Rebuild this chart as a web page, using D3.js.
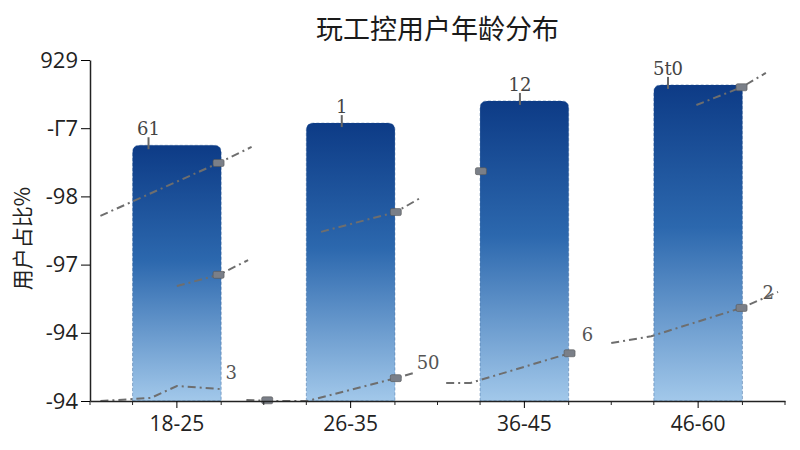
<!DOCTYPE html>
<html>
<head>
<meta charset="utf-8">
<script src="https://cdn.jsdelivr.net/npm/d3@7"></script>
<style>
  body { margin: 0; background: #fff; }
  svg { display: block; font-family: "Noto Sans CJK SC", "Open Sans", sans-serif; }
</style>
</head>
<body>
<div id="vis"></div>
<script>
// chart data
const categories = ["18-25", "26-35", "36-45", "46-60"];
const barValues = [75, 81.5, 88, 92.7];
const barLabels = ["61", "1", "12", "5t0"];
const yTickValues = [0, 20, 40, 60, 80, 100];
const yTickLabels = ["-94", "-94", "-97", "-98", "-Γ7", "929"];

// dash-dot line fragments, [category index, value]
const upperSegments = [
  [[-0.44, 54.3], [0.24, 69.8], [0.43, 74.5]],
  [[0.83, 49.6], [1.26, 55.4], [1.41, 59.8]],
  [[2.99, 86.8], [3.25, 92], [3.39, 96.2]]
];
const middleSegments = [
  [[0, 33.7], [0.24, 37], [0.41, 41.3]]
];
const lowerSegments = [
  [[-0.44, 0], [-0.15, 0.9], [0, 4.4], [0.25, 3.5]],
  [[0.4, 0.3], [0.54, 0], [0.75, 0], [1.26, 6.7], [1.36, 8.2]],
  [[1.55, 5.3], [1.69, 5.3], [2.26, 14]],
  [[2.5, 17], [2.73, 19], [3.25, 27.3], [3.46, 32]]
];
const markers = [[0.24, 69.8], [0.24, 37], [1.26, 55.4], [1.75, 67.4], [3.25, 92],
                 [0.52, 0.2], [1.26, 6.7], [2.26, 14], [3.25, 27.3]];
const lineLabels = [[0.28, 6.5, "3"], [1.38, 9.5, "50"], [2.33, 17.5, "6"], [3.37, 30, "2"]];
// where the bar label sits inside each band (fraction of bar width)
const labelFrac = [0.18, 0.4, 0.45, 0.16];

const WIDTH = 800, HEIGHT = 450;
const MARGINS = {left: 90, right: 15, top: 60, bottom: 49};

const svg = d3.select("#vis").append("svg")
    .attr("width", WIDTH).attr("height", HEIGHT);

const X_SCALE = d3.scaleBand()
    .domain(categories)
    .range([MARGINS.left, WIDTH - MARGINS.right])
    .paddingInner(0.49).paddingOuter(0.245);
const STEP = X_SCALE.step();
// numeric x for line fragments (index -> band center)
const X_NUM = d3.scaleLinear()
    .domain([0, 1])
    .range([X_SCALE(categories[0]) + X_SCALE.bandwidth() / 2,
            X_SCALE(categories[0]) + X_SCALE.bandwidth() / 2 + STEP]);
const Y_SCALE = d3.scaleLinear()
    .domain([0, 100])
    .range([HEIGHT - MARGINS.bottom, MARGINS.top]);

// gradient for bars
const defs = svg.append("defs");
const grad = defs.append("linearGradient")
    .attr("id", "barGrad").attr("x1", 0).attr("y1", 0).attr("x2", 0).attr("y2", 1);
grad.append("stop").attr("offset", "0%").attr("stop-color", "#0d3b86");
grad.append("stop").attr("offset", "45%").attr("stop-color", "#2c68ae");
grad.append("stop").attr("offset", "100%").attr("stop-color", "#a2c8ea");

// title
svg.append("text")
    .attr("x", (MARGINS.left + WIDTH - MARGINS.right) / 2)
    .attr("y", 39)
    .attr("text-anchor", "middle")
    .attr("font-size", 27)
    .attr("fill", "#1a1a1a")
    .text("玩工控用户年龄分布");

// y axis label
svg.append("text")
    .attr("transform", "translate(30," + ((MARGINS.top + HEIGHT - MARGINS.bottom) / 2 + 8) + ") rotate(-90)")
    .attr("text-anchor", "middle")
    .attr("font-size", 21)
    .attr("fill", "#222")
    .text("用户占比%");

// bars with rounded top corners
const r = 7;
svg.append("g").selectAll("path")
    .data(categories)
    .enter()
    .append("path")
    .attr("d", (d, i) => {
        const x0 = X_SCALE(d), x1 = x0 + X_SCALE.bandwidth();
        const y0 = Y_SCALE(barValues[i]), yb = Y_SCALE(0);
        return "M" + x0 + "," + yb + "L" + x0 + "," + (y0 + r) +
               "Q" + x0 + "," + y0 + " " + (x0 + r) + "," + y0 +
               "L" + (x1 - r) + "," + y0 +
               "Q" + x1 + "," + y0 + " " + x1 + "," + (y0 + r) +
               "L" + x1 + "," + yb + "Z";
    })
    .attr("fill", "url(#barGrad)")
    .attr("stroke", "#1d4f8f")
    .attr("stroke-width", 1)
    .attr("stroke-dasharray", "3,2")
    .attr("stroke-opacity", 0.4);

// bar value labels with small pointers
const lab = svg.append("g").selectAll("g")
    .data(categories)
    .enter()
    .append("g")
    .attr("transform", (d, i) => "translate(" + (X_SCALE(d) + X_SCALE.bandwidth() * labelFrac[i]) + "," + Y_SCALE(barValues[i]) + ")");
lab.append("line")
    .attr("x1", 0).attr("x2", 0).attr("y1", -8).attr("y2", 4)
    .attr("stroke", "#666").attr("stroke-width", 2);
lab.append("text")
    .attr("y", -10)
    .attr("text-anchor", "middle")
    .attr("font-family", "'DejaVu Serif', 'Liberation Serif', serif")
    .attr("font-size", 18)
    .attr("fill", "#444")
    .text((d, i) => barLabels[i]);

// dash-dot lines
const line = d3.line()
    .x((d) => X_NUM(d[0]))
    .y((d) => Y_SCALE(d[1]));
svg.append("g").selectAll("path")
    .data(upperSegments.concat(middleSegments, lowerSegments))
    .enter()
    .append("path")
    .attr("d", line)
    .attr("fill", "none")
    .attr("stroke", "#6e6e6e")
    .attr("stroke-width", 2)
    .attr("stroke-dasharray", "8,4,2,4");

// markers
svg.append("g").selectAll("rect")
    .data(markers)
    .enter()
    .append("rect")
    .attr("x", (d) => X_NUM(d[0]) - 5.5)
    .attr("y", (d) => Y_SCALE(d[1]) - 3.5)
    .attr("width", 11).attr("height", 7)
    .attr("rx", 1.5)
    .attr("fill", "#7a7f88")
    .attr("stroke", "#555").attr("stroke-width", 0.6);

svg.append("g").selectAll("text")
    .data(lineLabels)
    .enter()
    .append("text")
    .attr("x", (d) => X_NUM(d[0]))
    .attr("y", (d) => Y_SCALE(d[1]))
    .attr("font-family", "'DejaVu Serif', 'Liberation Serif', serif")
    .attr("font-size", 18)
    .attr("fill", "#555")
    .text((d) => d[2]);

// x axis
const xAxis = svg.append("g")
    .attr("transform", "translate(0," + Y_SCALE(0) + ")")
    .call(d3.axisBottom(X_SCALE).tickSize(7).tickSizeOuter(0));
xAxis.select(".domain").attr("stroke", "#222").attr("stroke-width", 1.5);
xAxis.selectAll("text").attr("font-size", 21).attr("fill", "#222").attr("dy", "0.95em")
    .attr("font-family", "'Open Sans', sans-serif");

// minor ticks on x axis: band edges and bar edges
const minor = [];
categories.forEach((c) => {
    minor.push(X_SCALE(c) - (STEP - X_SCALE.bandwidth()) / 2);
    minor.push(X_SCALE(c));
    minor.push(X_SCALE(c) + X_SCALE.bandwidth());
});
minor.push(WIDTH - MARGINS.right);
svg.append("g").selectAll("line")
    .data(minor)
    .enter()
    .append("line")
    .attr("x1", (d) => d).attr("x2", (d) => d)
    .attr("y1", Y_SCALE(0)).attr("y2", Y_SCALE(0) + 4)
    .attr("stroke", "#222");

// y axis
const yAxis = svg.append("g")
    .attr("transform", "translate(" + MARGINS.left + ",0)")
    .call(d3.axisLeft(Y_SCALE).tickValues(yTickValues)
        .tickFormat((d, i) => yTickLabels[i]).tickSize(9).tickSizeOuter(0));
yAxis.select(".domain").attr("stroke", "#222").attr("stroke-width", 1.5);
yAxis.selectAll("text").attr("font-size", 22).attr("fill", "#222")
    .attr("font-family", "'Open Sans', sans-serif");
</script>
</body>
</html>
